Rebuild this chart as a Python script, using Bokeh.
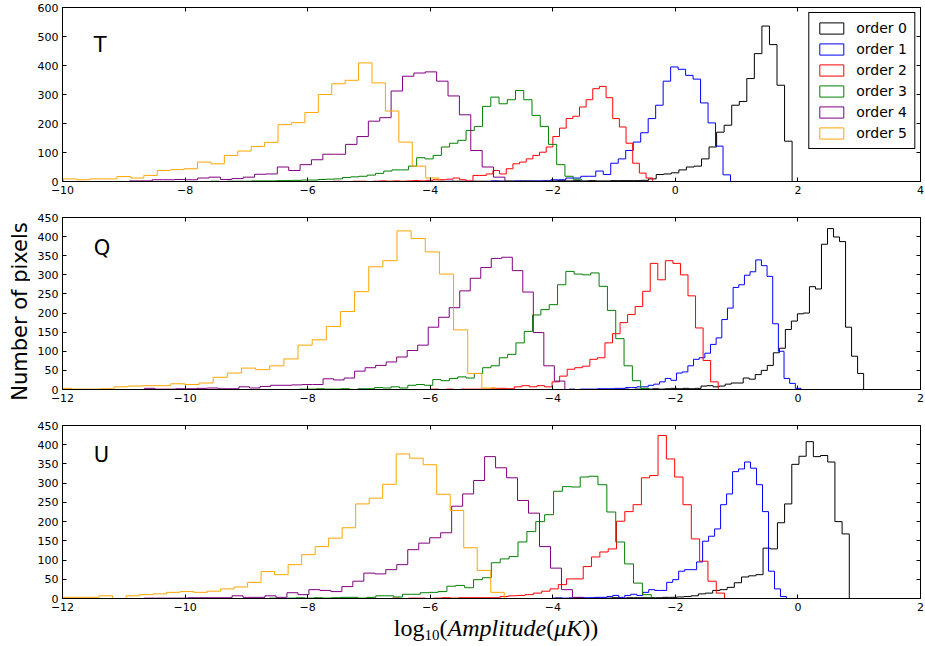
import numpy as np
from bokeh.plotting import figure
from bokeh.models import (Range1d, FixedTicker, LinearAxis, Label, Legend, LegendItem,
                          Div, ColumnDataSource, CustomJSTickFormatter)
from bokeh.layouts import column, row
from bokeh.embed import file_html
from bokeh.resources import INLINE
from bokeh.core.properties import value

# ---------------- data ----------------
names = ["order 0", "order 1", "order 2", "order 3", "order 4", "order 5"]
colors = ["#000000", "#0000ff", "#ff0000", "#008000", "#800080", "#ffa500"]

# Panel T : histogram ranges (lo, hi) and counts
t0_range = (-4.255, 1.905)
t0 = [0,0,0,1,0,1,1,0,1,1, 1,1,2,1,2,2,1,2,2,3, 2,3,2,3,2,2,3,3,3,3,
      4,9,24,26,30,40,50,53,78,119, 170,194,263,276,355,441,536,472,332,139]
t1_range = (-5.207, 0.900)
t1 = [0,0,0,0,0,0,0,0,0,0, 0,0,1,0,0,1,0,0,2,1, 0,2,1,1,2,2,6,6,12,12,
      18,18,36,24,63,78,107,136,168,217, 263,346,395,387,366,353,271,202,122,23]
t2_range = (-5.800, -0.370)
t2 = [0,0,1,0,0,1,1,0,1,2, 1,2,1,2,3,2,4,6,6,8, 12,6,2,21,21,26,38,26,44,61,
      67,78,90,101,119,155,184,217,225,257, 282,320,328,289,217,188,132,63,29,12]
t3_range = (-8.253, -1.533)
t3 = [0,0,0,0,0,1,0,1,1,1, 2,2,2,3,3,4,5,5,7,8, 9,14,16,18,22,28,36,40,40,53,
      82,78,90,119,132,142,176,190,259,291, 268,282,314,282,228,190,128,58,18,8]
t4_range = (-10.023, -2.781)
t4 = [0,0,0,0,0,0, 2,2,6,6,7,6,12,15,7,10, 15,25,26,50,38,58,75,94,94,128,
      155,208,220,312,363,374,378,346,295,230, 107,50,15]
t5_range = (-9.987, -3.855)
t5 = [9,6,9,9,17,12,21,38,41,44, 67,61,90,105,121,135,196,203,238,300,
      337,349,409,340,243,136,53,12]

# Panel Q
q0_range = (-3.840, 1.072)
q0 = [0,0,0,0,0,0,0,0,0,0, 1,0,1,1,1,2,1,2,3,2, 3,2,3,9,10,7,9,14,17,17,
      30,27,39,50,63,96,108,157,179,198, 200,269,263,380,421,399,387,163,87,42]
q1_range = (-4.565, 0.050)
q1 = [0,0,0,0,0,0,0,0,0,1, 0,1,1,1,2,2,2,3,3,5, 5,7,7,11,14,20,29,24,43,46,
      62,79,83,95,118,135,183,213,267,274, 299,308,339,324,296,172,100,29,16,3]
q2_range = (-7.461, -1.301)
q2 = [0,0,0,0,0,0,0,0,0,0, 0,0,1,0,1,0,1,1,1,1, 3,3,2,7,10,7,10,7,20,35,
      53,57,61,79,83,122,146,175,196,217, 257,330,287,337,330,300,245,161,76,20]
q3_range = (-9.215, -2.430)
q3 = [0,0,0,0,0,0,0,0,1,1, 2,1,1,2,0,2,2,5,4,7, 4,11,13,11,26,23,29,33,30,42,
      57,62,83,92,122,152,195,209,222,274, 309,302,300,305,270,207,133,62,23,3]
q4_range = (-12.036, -3.803)
q4 = [0,0,0,0,0,0,0,0, 3,1,1,2,2,3,4,2,2,7, 4,8,11,11,12,13,13,28,25,30,
      48,57,63,72,85,102,116,163,189,214, 258,291,319,343,346,311,255,149,62,22]
q5_range = (-12.079, -4.927)
q5 = [3,1,1,2,7,9,10,10,15,13, 17,32,43,56,52,62,80,116,130,165,
      204,256,321,337,415,395,360,302,156,42,4]

# Panel U
u0_range = (-5.025, 0.838)
u0 = [0,0,0,0,0,0,0,0,0,1, 0,1,1,0,1,1,1,2,1,2, 2,2,2,2,3,3,4,5,7,12,
      14,21,23,29,41,56,59,62,131,129, 197,246,349,370,408,369,372,355,200,168]
u1_range = (-5.073, -0.187)
u1 = [0,0,0,0,0,0,0,0,0,0, 0,1,1,1,1,2,2,2,3,3, 5,8,3,8,11,8,16,23,21,21,
      42,49,71,75,75,95,149,162,181,244, 272,330,337,355,339,296,226,71,25,5]
u2_range = (-7.980, -1.197)
u2 = [0,0,0,0,0,0,0,0,0,0, 1,0,1,1,0,1,2,1,2,2, 2,2,2,5,7,8,10,14,19,25,
      36,51,51,83,108,121,129,201,226,244, 314,320,424,363,316,244,155,97,45,14]
u3_range = (-9.642, -2.393)
u3 = [0,0,0,0,0,0,0,1,0,1, 2,1,2,1,2,3,3,1,3,7, 7,4,11,11,15,16,18,32,34,28,
      49,54,93,103,109,147,174,200,218,279, 291,290,316,318,296,225,147,90,40,10]
u4_range = (-12.100, -3.500)
u4 = [0,0,0,0,0,0,0,0, 1,1,1,1,2,2,2,2,7,3, 3,7,3,15,10,23,21,18,31,45,
      66,64,75,88,127,144,158,171,240,272, 307,369,340,314,255,222,135,79,23,3]
u5_range = (-12.065, -4.792)
u5 = [3,3,3,7,0,7,10,12,16,18, 16,19,25,30,42,70,62,88,114,135,
      157,184,246,261,297,376,365,348,271,229, 132,73,16]

# axes
t_xticks = [-10, -8, -6, -4, -2, 0, 2, 4]
t_yticks = [0, 100, 200, 300, 400, 500, 600]
qu_xticks = [-12, -10, -8, -6, -4, -2, 0, 2]
qu_yticks = [0, 50, 100, 150, 200, 250, 300, 350, 400, 450]

panel_T = [(t0_range, t0), (t1_range, t1), (t2_range, t2), (t3_range, t3), (t4_range, t4), (t5_range, t5)]
panel_Q = [(q0_range, q0), (q1_range, q1), (q2_range, q2), (q3_range, q3), (q4_range, q4), (q5_range, q5)]
panel_U = [(u0_range, u0), (u1_range, u1), (u2_range, u2), (u3_range, u3), (u4_range, u4), (u5_range, u5)]

# ---------------- helpers ----------------
MINUS_FMT = "return tick < 0 ? '\\u2212' + (-tick) : '' + tick;"
FONT = "DejaVu Sans"
COL_W = 894


def step_xy(rng, counts):
    edges = np.linspace(rng[0], rng[1], len(counts) + 1)
    xs = [edges[0]]
    ys = [0]
    for i, c in enumerate(counts):
        xs += [edges[i], edges[i + 1]]
        ys += [c, c]
    xs.append(edges[-1])
    ys.append(0)
    return xs, ys


def make_panel(xr, yr, xticks, yticks, height, top, bottom, series, letter, letter_xy):
    p = figure(width=COL_W, height=height, x_range=Range1d(*xr), y_range=Range1d(*yr),
               output_backend="svg", toolbar_location=None,
               min_border_left=32, min_border_right=4, min_border_top=top,
               min_border_bottom=bottom)
    p.grid.visible = False
    p.outline_line_color = "black"
    p.outline_line_width = 1
    p.background_fill_color = "white"

    for ax, ticks in ((p.xaxis[0], xticks), (p.yaxis[0], yticks)):
        ax.ticker = FixedTicker(ticks=ticks)
        ax.formatter = CustomJSTickFormatter(code=MINUS_FMT)
        ax.major_tick_in = 4
        ax.major_tick_out = 0
        ax.minor_tick_line_color = None
        ax.axis_line_color = "black"
        ax.major_tick_line_color = "black"
        ax.major_label_text_font = FONT
        ax.major_label_text_font_size = "11px"
        ax.major_label_text_color = "black"
        ax.major_label_standoff = 4

    # mirrored ticks on top and right
    for loc, ticks in (("above", xticks), ("right", yticks)):
        ax = LinearAxis(ticker=FixedTicker(ticks=ticks),
                        formatter=CustomJSTickFormatter(code="return '';"))
        ax.major_tick_in = 4
        ax.major_tick_out = 0
        ax.minor_tick_line_color = None
        ax.major_label_text_font_size = "0px"
        ax.major_label_standoff = 0
        ax.axis_line_color = "black"
        p.add_layout(ax, loc)

    for (rng, counts), color in zip(series, colors):
        xs, ys = step_xy(rng, counts)
        src = ColumnDataSource(data=dict(x=xs, y=ys))
        p.line("x", "y", source=src, line_color=color, line_width=1)

    p.add_layout(Label(x=letter_xy[0], y=letter_xy[1], text=letter, text_font=FONT,
                       text_font_size="21px", text_baseline="middle", text_align="left",
                       text_color="black"))
    return p


pT = make_panel((-10, 4), (0, 600), t_xticks, t_yticks, 211, 7, 30, panel_T, "T", (-9.49, 470))
pQ = make_panel((-12, 2), (0, 450), qu_xticks, qu_yticks, 208, 6, 30, panel_Q, "Q", (-11.49, 370))
pU = make_panel((-12, 2), (0, 450), qu_xticks, qu_yticks, 199, 6, 20, panel_U, "U", (-11.49, 372))

# legend with open rectangles (glyph-only renderers that draw nothing in the plot)
items = []
for name, color in zip(names, colors):
    nan = np.array([np.nan])
    r = pT.quad(left=nan, right=nan, top=nan, bottom=nan, fill_color=None,
                line_color=color, line_width=1)
    items.append(LegendItem(label=name, renderers=[r]))
legend = Legend(items=items, location="top_right")
legend.border_line_color = "black"
legend.border_line_width = 1
legend.border_line_alpha = 1
legend.background_fill_color = "white"
legend.background_fill_alpha = 1
legend.label_text_font = FONT
legend.label_text_font_size = "14px"
legend.label_text_color = "black"
legend.glyph_width = 30
legend.glyph_height = 14
legend.label_standoff = 10
legend.spacing = 5
legend.padding = 7
legend.margin = 5
pT.add_layout(legend)

# y label
yl = figure(width=30, height=644, x_range=Range1d(0, 30), y_range=Range1d(0, 644),
            output_backend="svg", toolbar_location=None, min_border=0,
            x_axis_location=None, y_axis_location=None)
yl.grid.visible = False
yl.outline_line_color = None
yl.text(x=[19], y=[333], text=["Number of pixels"], angle=np.pi / 2,
        text_align="center", text_baseline="middle", text_font=value(FONT),
        text_font_size="21px", text_color="black")

xlabel = Div(text=("<div style=\"width:%dpx;box-sizing:border-box;text-align:center;"
                   "padding-left:28px;font-family:'Liberation Serif';font-size:24px;"
                   "line-height:22px;position:relative;top:-6px;color:black;\">"
                   "log<sub style=\"font-size:15px;vertical-align:-4px;line-height:0\">10</sub>"
                   "(<i>Amplitude</i>(<i>\u03bcK</i>))</div>") % COL_W,
             width=COL_W, height=26)

layout = row(yl, column(pT, pQ, pU, xlabel))

open("out.html", "w").write(file_html(layout, INLINE))
